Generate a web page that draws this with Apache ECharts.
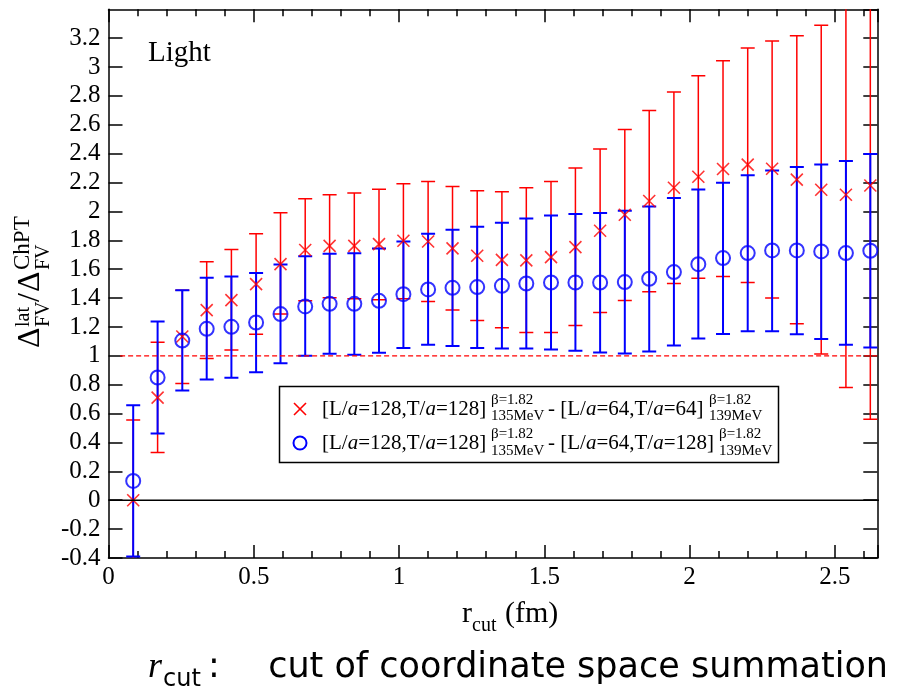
<!DOCTYPE html>
<html>
<head>
<meta charset="utf-8">
<script src="https://cdn.jsdelivr.net/npm/echarts@6/dist/echarts.min.js"></script>
<style>
  html, body { margin: 0; padding: 0; background: #fff; }
  #chart { width: 899px; height: 696px; }
</style>
</head>
<body>
<div id="chart"></div>
<script>
// r_cut values (fm)
const rcut = [0.085, 0.169, 0.254, 0.338, 0.423, 0.508, 0.592, 0.677, 0.761, 0.846,
  0.931, 1.015, 1.100, 1.184, 1.269, 1.354, 1.438, 1.523, 1.607, 1.692,
  1.777, 1.861, 1.946, 2.030, 2.115, 2.200, 2.284, 2.369, 2.453, 2.538, 2.622]

// [L/a=128,T/a=128] - [L/a=64,T/a=64]  (red crosses)
const redMean = [0.0, 0.711, 1.134, 1.317, 1.386, 1.497, 1.635, 1.733, 1.762, 1.762,
  1.774, 1.797, 1.792, 1.744, 1.693, 1.665, 1.661, 1.684, 1.753, 1.866,
  1.977, 2.072, 2.164, 2.240, 2.294, 2.324, 2.296, 2.220, 2.150, 2.116, 2.180]
const redLow = [-0.556, 0.330, 0.808, 0.981, 1.040, 1.150, 1.289, 1.381, 1.402, 1.395,
  1.388, 1.395, 1.377, 1.317, 1.245, 1.194, 1.162, 1.162, 1.210, 1.300,
  1.383, 1.444, 1.501, 1.538, 1.550, 1.508, 1.400, 1.222, 1.012, 0.780, 0.561]
const redHigh = [0.556, 1.095, 1.455, 1.651, 1.737, 1.845, 1.991, 2.088, 2.116, 2.127,
  2.153, 2.192, 2.208, 2.173, 2.143, 2.137, 2.164, 2.208, 2.301, 2.432,
  2.568, 2.700, 2.827, 2.940, 3.044, 3.132, 3.181, 3.216, 3.289, 3.450, 3.800]

// [L/a=128,T/a=128] - [L/a=64,T/a=128]  (blue circles)
const blueMean = [0.134, 0.850, 1.106, 1.187, 1.201, 1.231, 1.289, 1.342, 1.360, 1.360,
  1.381, 1.427, 1.460, 1.471, 1.476, 1.485, 1.501, 1.508, 1.508, 1.508,
  1.511, 1.534, 1.580, 1.635, 1.677, 1.712, 1.730, 1.730, 1.723, 1.712, 1.728]
const blueLow = [-0.390, 0.462, 0.760, 0.836, 0.848, 0.887, 0.949, 1.000, 1.014, 1.007,
  1.021, 1.055, 1.076, 1.069, 1.055, 1.051, 1.051, 1.044, 1.035, 1.023,
  1.016, 1.030, 1.071, 1.120, 1.152, 1.171, 1.171, 1.150, 1.116, 1.076, 1.058]
const blueHigh = [0.658, 1.238, 1.455, 1.540, 1.550, 1.573, 1.633, 1.690, 1.707, 1.711,
  1.744, 1.792, 1.845, 1.873, 1.894, 1.922, 1.952, 1.972, 1.982, 1.989,
  2.005, 2.035, 2.093, 2.152, 2.199, 2.250, 2.284, 2.308, 2.326, 2.349, 2.398]

// reference lines
const zeroLine = [[0, 0], [2.7, 0]]
const unityLine = [[0.04, 1], [2.7, 1]]

const RED = '#ff0000'
const BLUE = '#0000ff'
const SERIF = '"Liberation Serif", "Times New Roman", serif'

const chart = echarts.init(document.getElementById('chart'), null, { renderer: 'canvas' })

// vertical error bar with caps
const errorBars = (color, width) => (params, api) => {
  const x = api.value(0)
  const lo = api.coord([x, api.value(1)])
  const hi = api.coord([x, api.value(2)])
  const half = 7
  const style = { stroke: color, lineWidth: width }
  return {
    type: 'group',
    children: [
      { type: 'line', shape: { x1: lo[0], y1: lo[1], x2: hi[0], y2: hi[1] }, style },
      { type: 'line', shape: { x1: lo[0] - half, y1: lo[1], x2: lo[0] + half, y2: lo[1] }, style },
      { type: 'line', shape: { x1: hi[0] - half, y1: hi[1], x2: hi[0] + half, y2: hi[1] }, style }
    ]
  }
}

const frameAxis = {
  axisLine: { onZero: false, lineStyle: { color: '#000', width: 1.5 } },
  splitLine: { show: false },
  axisLabel: {
    color: '#000', fontFamily: SERIF, fontSize: 25, showMaxLabel: false
  }
}

const xCommon = {
  ...frameAxis,
  type: 'value', min: 0, max: 2.646, interval: 0.5,
  axisTick: { inside: true, length: 13, lineStyle: { color: '#000', width: 1.5 } },
  minorTick: { show: true, splitNumber: 5, length: 7, lineStyle: { color: '#000', width: 1.5 } }
}
const yCommon = {
  ...frameAxis,
  type: 'value', min: -0.4, max: 3.4, interval: 0.2,
  axisTick: { inside: true, length: 14, lineStyle: { color: '#000', width: 1.5 } }
}

// helper for small text pieces in the graphic layer
const txt = (x, y, text, font, extra) => ({
  type: 'text', x, y,
  style: Object.assign({ text, font, fill: '#000', verticalAlign: 'middle' }, extra || {})
})

const legendMain = '21px ' + SERIF
const legendSmall = '15px ' + SERIF
const richA = { i: { fontStyle: 'italic', font: 'italic 21px ' + SERIF } }

const option = {
  animation: false,
  backgroundColor: '#fff',
  grid: { left: 108.5, right: 21.7, top: 9.3, bottom: 138 },
  xAxis: [
    { ...xCommon, position: 'bottom', axisLabel: { ...frameAxis.axisLabel, margin: 7 } },
    { ...xCommon, position: 'top', axisLabel: { show: false } }
  ],
  yAxis: [
    { ...yCommon, position: 'left', axisLabel: { ...frameAxis.axisLabel, margin: 8 } },
    { ...yCommon, position: 'right', axisLabel: { show: false } }
  ],
  series: [
    {
      type: 'line', data: zeroLine, showSymbol: false, silent: true,
      lineStyle: { color: '#000', width: 1.5 }
    },
    {
      type: 'line', data: unityLine, showSymbol: false, silent: true,
      lineStyle: { color: RED, width: 1.3, type: [5, 3] }
    },
    {
      type: 'custom', name: 'red-err', clip: true, silent: true,
      renderItem: errorBars(RED, 1.5),
      data: rcut.map((x, i) => [x, redLow[i], redHigh[i]])
    },
    {
      type: 'custom', name: 'blue-err', clip: true, silent: true,
      renderItem: errorBars(BLUE, 2),
      data: rcut.map((x, i) => [x, blueLow[i], blueHigh[i]])
    },
    {
      type: 'scatter', name: 'red', silent: true,
      symbol: 'path://M0,0L10,10M10,0L0,10', symbolSize: 12,
      itemStyle: { color: 'rgba(0,0,0,0)', borderColor: RED, borderWidth: 1.6 },
      data: rcut.map((x, i) => [x, redMean[i]])
    },
    {
      type: 'scatter', name: 'blue', silent: true,
      symbol: 'circle', symbolSize: 14,
      itemStyle: { color: 'rgba(0,0,0,0)', borderColor: BLUE, borderWidth: 2 },
      data: rcut.map((x, i) => [x, blueMean[i]])
    }
  ],
  graphic: [
    // panel label
    txt(148, 53, 'Light', '29px ' + SERIF),

    // legend box, markers and labels
    {
      type: 'rect', shape: { x: 279.5, y: 386.5, width: 499, height: 76 },
      style: { fill: '#fff', stroke: '#000', lineWidth: 1.5 }
    },
    { type: 'line', shape: { x1: 294, y1: 403, x2: 306, y2: 415 }, style: { stroke: RED, lineWidth: 1.6 } },
    { type: 'line', shape: { x1: 306, y1: 403, x2: 294, y2: 415 }, style: { stroke: RED, lineWidth: 1.6 } },
    { type: 'circle', shape: { cx: 300, cy: 443, r: 6.5 }, style: { fill: 'none', stroke: BLUE, lineWidth: 2 } },

    txt(322, 409, '[L/{i|a}=128,T/{i|a}=128]', legendMain, { rich: richA }),
    txt(491, 400, 'β=1.82', legendSmall),
    txt(491, 416.5, '135MeV', legendSmall),
    txt(548, 409, '- [L/{i|a}=64,T/{i|a}=64]', legendMain, { rich: richA }),
    txt(709, 400, 'β=1.82', legendSmall),
    txt(709, 416.5, '139MeV', legendSmall),

    txt(322, 443, '[L/{i|a}=128,T/{i|a}=128]', legendMain, { rich: richA }),
    txt(491, 434.5, 'β=1.82', legendSmall),
    txt(491, 451, '135MeV', legendSmall),
    txt(548, 443, '- [L/{i|a}=64,T/{i|a}=128]', legendMain, { rich: richA }),
    txt(719, 434.5, 'β=1.82', legendSmall),
    txt(719, 451, '139MeV', legendSmall),

    // y axis title, rotated
    {
      type: 'group', x: 41, y: 348, rotation: Math.PI / 2,
      children: [
        txt(0, -10, 'Δ', '32px ' + SERIF),
        txt(21, -17, 'lat', '20px ' + SERIF),
        txt(21, 3, 'FV', '20px ' + SERIF),
        txt(46, -10, '/', '32px ' + SERIF),
        txt(56, -10, 'Δ', '32px ' + SERIF),
        txt(78, -18, 'ChPT', '23px ' + SERIF),
        txt(78, 3, 'FV', '20px ' + SERIF)
      ]
    },

    // x axis title
    txt(462, 614, 'r', '30px ' + SERIF),
    txt(472, 626, 'cut', '20px ' + SERIF),
    txt(505, 614, '(fm)', '30px ' + SERIF),

    // caption
    txt(148, 668, 'r', 'italic 36px ' + SERIF),
    txt(163, 680, 'cut', '24px "DejaVu Sans"'),
    txt(208, 668, ':', '35px "DejaVu Sans"'),
    txt(888, 668, 'cut of coordinate space summation', '35px "DejaVu Sans"', { align: 'right' })
  ]
}

chart.setOption(option)
window.addEventListener('resize', () => chart.resize())
</script>
</body>
</html>
